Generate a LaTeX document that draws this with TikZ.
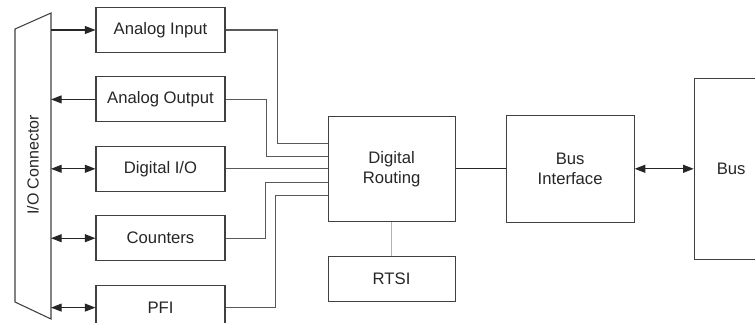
\documentclass[tikz,border=0pt]{standalone}
\usepackage{fontspec}
\setmainfont{Liberation Sans}
\usepackage{tikz}
\usetikzlibrary{arrows.meta,positioning}

\begin{document}
\begin{tikzpicture}[
  x=0.75pt, y=-0.75pt,
  block/.style={draw=black!75, line width=0.8pt, minimum width=96.75pt, minimum height=33.75pt, inner sep=0pt, align=center, text=black!85, font=\fontsize{12.5}{15}\selectfont},
  big/.style={block, minimum width=95.25pt, minimum height=78.75pt},
  wire/.style={draw=black!65, line width=0.9pt},
  arrow/.style={-{Triangle[length=8pt,width=6pt]}, line width=0.8pt, black!85},
  twoway/.style={{Triangle[length=8pt,width=6pt]}-{Triangle[length=8pt,width=6pt]}, line width=0.8pt, black!85},
]
  \useasboundingbox (0,0) rectangle (755,322);

  % I/O connector
  \draw[black!75, line width=0.8pt] (15,29) -- (51,13) -- (51,319) -- (15,302) -- cycle;
  \coordinate (conn) at (51,0);
  \node[rotate=90, text=black!85, font=\fontsize{12}{15}\selectfont] (connlabel) at (33,165) {I/O Connector};

  % Subsystems
  \node[block] (ain) at (160.5,30) {Analog Input};
  \node[block, below=17.5pt of ain] (aout) {Analog Output};
  \node[block, below=17.5pt of aout] (dio) {Digital I/O};
  \node[block, below=17.5pt of dio] (cnt) {Counters};
  \node[block, below=17.5pt of cnt] (pfi) {PFI};

  % Routing and bus
  \node[big, right=76.5pt of dio] (route) {Digital\\Routing};
  \node[block, minimum width=95.25pt, below=25.5pt of route] (rtsi) {RTSI};
  \node[big, minimum width=96pt, minimum height=80.25pt, right=37.5pt of route] (busif) {Bus\\Interface};
  \node[block, minimum width=55.5pt, minimum height=135.75pt, right=44.25pt of busif] (bus) {Bus};

  % Connector arrows
  \draw[arrow] (ain.west -| conn) -- (ain.west);
  \draw[arrow] (aout.west) -- (aout.west -| conn);
  \foreach \b in {dio, cnt, pfi}
    \draw[twoway] (\b.west -| conn) -- (\b.west);

  % Wires into routing
  \draw[wire] (ain.east) -- ++(52,0) |- ([yshift=19pt]route.west);
  \draw[wire] (aout.east) -- ++(41,0) |- ([yshift=9pt]route.west);
  \draw[wire] (dio.east) -- (route.west);
  \draw[wire] (cnt.east) -- ++(40,0) |- ([yshift=-10pt]route.west);
  \draw[wire] (pfi.east) -- ++(50,0) |- ([yshift=-20pt]route.west);

  \draw[wire, draw=black!30] (route.south) -- (rtsi.north);
  \draw[wire, draw=black!85, line width=0.8pt] (route.east) -- (busif.west);
  \draw[twoway] (busif.east) -- (bus.west);

\end{tikzpicture}
\end{document}
